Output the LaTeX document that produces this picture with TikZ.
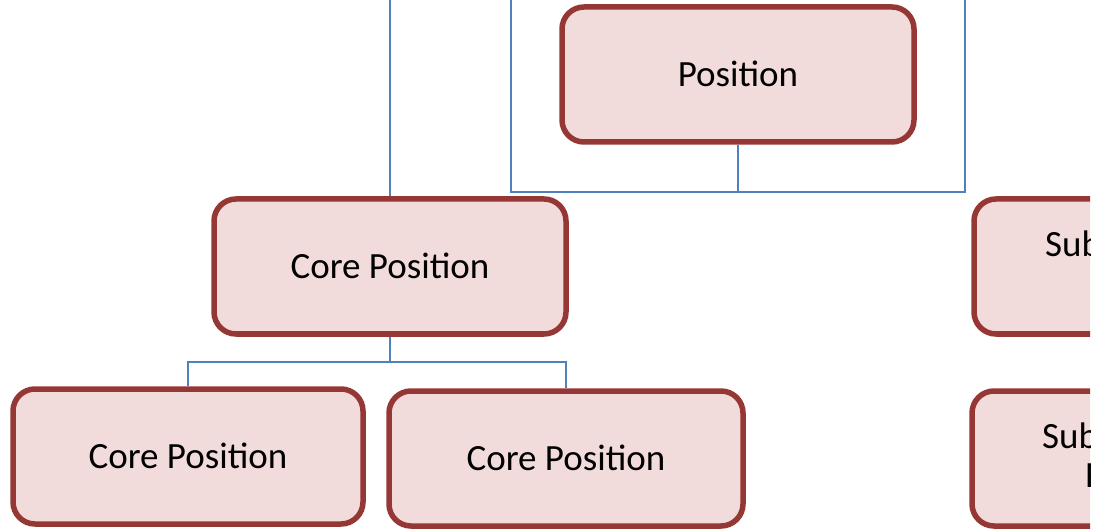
\documentclass[tikz,border=0pt]{standalone}
\usepackage{fontspec}
\setmainfont{Carlito}
\usetikzlibrary{positioning}
\definecolor{boxfill}{HTML}{F2DCDB}
\definecolor{boxdraw}{HTML}{953735}
\definecolor{linkblue}{HTML}{4F81BD}
\tikzstyle{posbox}=[draw=boxdraw,fill=boxfill,line width=5.5pt,rounded corners=22pt,
  minimum width=352pt,minimum height=135pt,font=\fontsize{37}{44}\selectfont]
\tikzstyle{link}=[draw=linkblue,line width=2pt]
\tikzstyle{subtext}=[anchor=base west,inner sep=0pt,font=\fontsize{37}{44}\selectfont]
\newcommand{\newBox}[4]{\node[posbox,#4](#1) at (#2) {#3};}
\newcommand{\newLink}[2]{\draw[link] (#1) -- (#2);}

\begin{document}
\begin{tikzpicture}[x=1pt,y=-1pt]
  \useasboundingbox (0,0) rectangle (1095,529);
  \clip (0,0) rectangle (1090,529);
  % boxes
  \newBox{pos}{738,74.5}{\raisebox{2pt}{Position}}{}
  \newBox{core}{390,266.5}{\raisebox{2pt}{Core Position}}{}
  \newBox{kidL}{188,456.5}{\raisebox{2pt}{Core Position}}{minimum width=350pt}
  \newBox{kidR}{566,458.5}{\raisebox{1pt}{Core Position}}{minimum width=354pt}
  \newBox{subA}{1150,266.5}{}{}
  \newBox{subB}{1148,458.5}{}{}
  \node[subtext] (subAtxt) at (1045,257) {Sub};
  \node[subtext] (subBtxt) at (1042,448) {Sub};
  \node[subtext] (subBmore) at (1085,487) {P};
  % connectors
  \coordinate (upL) at (390,-5);
  \coordinate (upA) at (511,-5);
  \coordinate (upB) at (965,-5);
  \coordinate (joint) at (738,192);
  \coordinate (split) at (390,362);
  \newLink{upL}{core.north}
  \newLink{pos.south}{joint}
  \draw[link] (upA) |- (joint) -| (upB);
  \newLink{core.south}{split}
  \draw[link] (split) -| (kidL.north);
  \draw[link] (split) -| (kidR.north);
\end{tikzpicture}
\end{document}
